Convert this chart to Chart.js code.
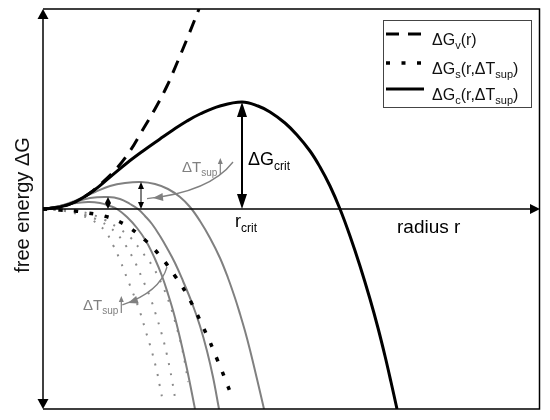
<!DOCTYPE html>
<html>
<head>
<meta charset="utf-8">
<script src="https://cdn.jsdelivr.net/npm/chart.js@4.4.1/dist/chart.umd.min.js"></script>
<style>
body{margin:0;background:#fff;}
#wrap{width:550px;height:420px;}
</style>
</head>
<body>
<div id="wrap"><canvas id="graf" width="550" height="420"></canvas></div>
<script>
// schematic values (radius r -> free energy dG, arbitrary units)
var gvR = [0,17,32,47,60,74,87,99,112,124,134,144,156];
var gvG = [0,2,7,16,27,41,58,78,100,123,146,170,200];

var gsR = [0,17,32,45,61,75,87,102,112,122,132,142,149,154,161,167,174,179,184,190];
var gsG = [0,-1,-2,-4,-7,-12,-19,-31,-41,-53,-67,-82,-95,-105,-120,-133,-150,-162,-175,-190];

var gcR = [0,17,32,50,67,84,100,117,130,144,157,177,199,215,227,242,254,267,277,287,297,307,317,327,335,342,348,354];
var gcG = [0,2,7,18,32,46,58,70,79,88,95,103,107,103,97,86,74,58,42,23,0,-27,-57,-90,-119,-147,-173,-200];

// grey curves for other undercoolings dT_sup
var c1R = [0,17,34,52,67,82,98,112,125,137,147,157,167,177,185,192,197,202,207,214,221];
var c1G = [0,3,9,17,23,26,27,25,20,12,2,-12,-29,-49,-69,-89,-105,-122,-141,-170,-200];
var c2R = [0,17,32,47,65,77,87,95,102,109,117,124,132,140,149,157,164,170,176];
var c2G = [0,3,7,11,12,10,5,0,-7,-15,-27,-39,-54,-72,-94,-117,-142,-168,-200];
var c3R = [0,12,27,45,57,67,74,84,94,103,112,119,125,131,137,144,152];
var c3G = [0,2,5,7,6,3,0,-8,-19,-32,-50,-67,-85,-105,-129,-160,-200];

var d1R = [0,22,37,49,57,63,70,77,82,90,97,103,109,114,117,120];
var d1G = [0,-2,-6,-11,-17,-23,-36,-51,-64,-84,-103,-123,-143,-163,-178,-193];
var d2R = [0,27,42,55,65,72,79,90,99,107,113,119,124,129,133];
var d2G = [0,-2,-6,-11,-17,-23,-31,-49,-69,-88,-106,-126,-146,-171,-195];
var d3R = [0,32,47,62,75,87,99,110,120,127,133,139,143,145];
var d3G = [0,-2,-5,-11,-19,-28,-43,-58,-78,-96,-116,-139,-160,-173];

var FONT = '"Liberation Sans", Arial, sans-serif';
var GREY = '#808080';

function pts(xs, ys) {
  return xs.map(function (x, i) { return {x: x, y: ys[i]}; });
}
function peak(xs, ys) {
  var k = 0;
  ys.forEach(function (v, i) { if (v > ys[k]) k = i; });
  return {x: xs[k], y: ys[k]};
}

function arrowHead(ctx, x, y, ang, len, w) {
  var c = Math.cos(ang), s = Math.sin(ang);
  ctx.beginPath();
  ctx.moveTo(x, y);
  ctx.lineTo(x - len * c + w / 2 * s, y - len * s - w / 2 * c);
  ctx.lineTo(x - len * c - w / 2 * s, y - len * s + w / 2 * c);
  ctx.closePath();
  ctx.fill();
}

function vDouble(ctx, x, y1, y2, lw, len, w) {
  ctx.lineWidth = lw;
  ctx.beginPath();
  ctx.moveTo(x, y1 + len * 0.6);
  ctx.lineTo(x, y2 - len * 0.6);
  ctx.stroke();
  arrowHead(ctx, x, y1, -Math.PI / 2, len, w);
  arrowHead(ctx, x, y2, Math.PI / 2, len, w);
}

// text with subscripts: parts = [[text, isSub], ...]
function rich(ctx, x, y, parts, size, color) {
  ctx.fillStyle = color;
  ctx.textAlign = 'left';
  ctx.textBaseline = 'alphabetic';
  parts.forEach(function (p) {
    ctx.font = (p[1] ? Math.round(size * 0.68) : size) + 'px ' + FONT;
    ctx.fillText(p[0], x, p[1] ? y + size * 0.27 : y);
    x += ctx.measureText(p[0]).width;
  });
  return x;
}

var legendItems = [
  {ds: 0, parts: [['ΔG', 0], ['v', 1], ['(r)', 0]]},
  {ds: 1, parts: [['ΔG', 0], ['s', 1], ['(r,ΔT', 0], ['sup', 1], [')', 0]]},
  {ds: 2, parts: [['ΔG', 0], ['c', 1], ['(r,ΔT', 0], ['sup', 1], [')', 0]]}
];

var deco = {
  id: 'deco',
  beforeDraw: function (chart) {
    var ctx = chart.ctx;
    ctx.save();
    ctx.fillStyle = '#fff';
    ctx.fillRect(0, 0, chart.width, chart.height);
    ctx.restore();
  },
  afterDatasetsDraw: function (chart) {
    var ctx = chart.ctx, a = chart.chartArea;
    var sx = chart.scales.x, sy = chart.scales.y;
    function X(v) { return sx.getPixelForValue(v); }
    function Y(v) { return sy.getPixelForValue(v); }
    ctx.save();

    // frame + axes
    ctx.strokeStyle = '#000';
    ctx.fillStyle = '#000';
    ctx.lineWidth = 1.5;
    ctx.beginPath();
    ctx.moveTo(a.left, a.top); ctx.lineTo(a.right - 0.5, a.top);
    ctx.lineTo(a.right - 0.5, a.bottom); ctx.lineTo(a.left, a.bottom);
    ctx.stroke();
    vDouble(ctx, a.left, a.top, a.bottom, 1.5, 10, 11);
    ctx.beginPath();
    ctx.moveTo(a.left, Y(0)); ctx.lineTo(a.right - 8, Y(0));
    ctx.stroke();
    arrowHead(ctx, a.right, Y(0), 0, 10, 10);

    // critical nucleus arrow and the two small ones
    var pc = peak(gcR, gcG), p1 = peak(c1R, c1G), p2 = peak(c2R, c2G);
    vDouble(ctx, X(pc.x), Y(pc.y), Y(0), 2, 15, 10);
    vDouble(ctx, X(p1.x), Y(p1.y), Y(0), 1, 7, 6);
    vDouble(ctx, X(p2.x), Y(p2.y), Y(0), 1, 6, 6);

    rich(ctx, X(205), Y(44), [['ΔG', 0], ['crit', 1]], 18, '#000');
    rich(ctx, X(192), Y(-18), [['r', 0], ['crit', 1]], 18, '#000');
    rich(ctx, X(354), Y(-24), [['radius r', 0]], 19, '#000');

    // grey dT_sup arrows
    ctx.strokeStyle = GREY;
    ctx.fillStyle = GREY;
    ctx.lineWidth = 1.3;
    [[190, 47, 167, 17, 110, 11], [124, -58, 117, -83, 85, -94]].forEach(function (q) {
      var x0 = X(q[0]), y0 = Y(q[1]), cx = X(q[2]), cy = Y(q[3]), x1 = X(q[4]), y1 = Y(q[5]);
      var ang = Math.atan2(y1 - cy, x1 - cx);
      ctx.beginPath();
      ctx.moveTo(x0, y0);
      ctx.quadraticCurveTo(cx, cy, x1 + 6 * Math.cos(ang), y1 + 6 * Math.sin(ang));
      ctx.stroke();
      arrowHead(ctx, x1, y1, ang, 10, 8);
    });
    [[139, 37], [40, -101]].forEach(function (q) {
      var bx = X(q[0]), by = Y(q[1]);
      var ex = rich(ctx, bx, by, [['ΔT', 0], ['sup', 1]], 15, GREY);
      ctx.lineWidth = 1.2;
      ctx.beginPath();
      ctx.moveTo(ex + 3, by + 3); ctx.lineTo(ex + 3, by - 9);
      ctx.stroke();
      arrowHead(ctx, ex + 3, by - 14, -Math.PI / 2, 6, 5);
    });

    // y axis title
    ctx.save();
    ctx.translate(29, (a.top + a.bottom) / 2 - 4);
    ctx.rotate(-Math.PI / 2);
    ctx.font = '20px ' + FONT;
    ctx.fillStyle = '#111';
    ctx.textAlign = 'center';
    ctx.fillText('free energy ΔG', 0, 0);
    ctx.restore();

    // legend
    ctx.fillStyle = '#fff';
    ctx.fillRect(383, 20, 148, 87);
    ctx.strokeStyle = '#444';
    ctx.lineWidth = 1;
    ctx.strokeRect(383.5, 20.5, 148, 87);
    var rows = [34, 63, 89];
    legendItems.forEach(function (it, i) {
      var ds = chart.data.datasets[it.ds];
      ctx.strokeStyle = ds.borderColor;
      ctx.lineWidth = ds.borderWidth;
      ctx.setLineDash(ds.borderDash || []);
      ctx.lineDashOffset = 0;
      ctx.beginPath();
      ctx.moveTo(386, rows[i]); ctx.lineTo(424, rows[i]);
      ctx.stroke();
      ctx.setLineDash([]);
      rich(ctx, 432, rows[i] + 11, it.parts, 16, '#111');
    });
    ctx.restore();
  }
};

function line(xs, ys, color, width, dash) {
  return {
    data: pts(xs, ys),
    borderColor: color,
    borderWidth: width,
    borderDash: dash,
    borderCapStyle: 'butt',
    pointRadius: 0,
    fill: false,
    tension: 0.4
  };
}

new Chart(document.getElementById('graf'), {
  type: 'line',
  data: {
    datasets: [
      line(gvR, gvG, '#000', 3, [13, 9]),
      line(gsR, gsG, '#000', 3.5, [4, 11.5]),
      line(gcR, gcG, '#000', 3, []),
      line(c1R, c1G, GREY, 2, []),
      line(c2R, c2G, GREY, 2, []),
      line(c3R, c3G, GREY, 2, []),
      line(d1R, d1G, '#8a8a8a', 2, [2, 8.5]),
      line(d2R, d2G, '#8a8a8a', 2, [2, 8.5]),
      line(d3R, d3G, '#8a8a8a', 2, [2, 8.5])
    ]
  },
  options: {
    responsive: false,
    animation: false,
    layout: {padding: {left: 43, top: 9, right: 10, bottom: 11}},
    scales: {
      x: {type: 'linear', min: 0, max: 497, display: false},
      y: {type: 'linear', min: -200, max: 200, display: false}
    },
    plugins: {legend: {display: false}, tooltip: {enabled: false}}
  },
  plugins: [deco]
});
</script>
</body>
</html>
